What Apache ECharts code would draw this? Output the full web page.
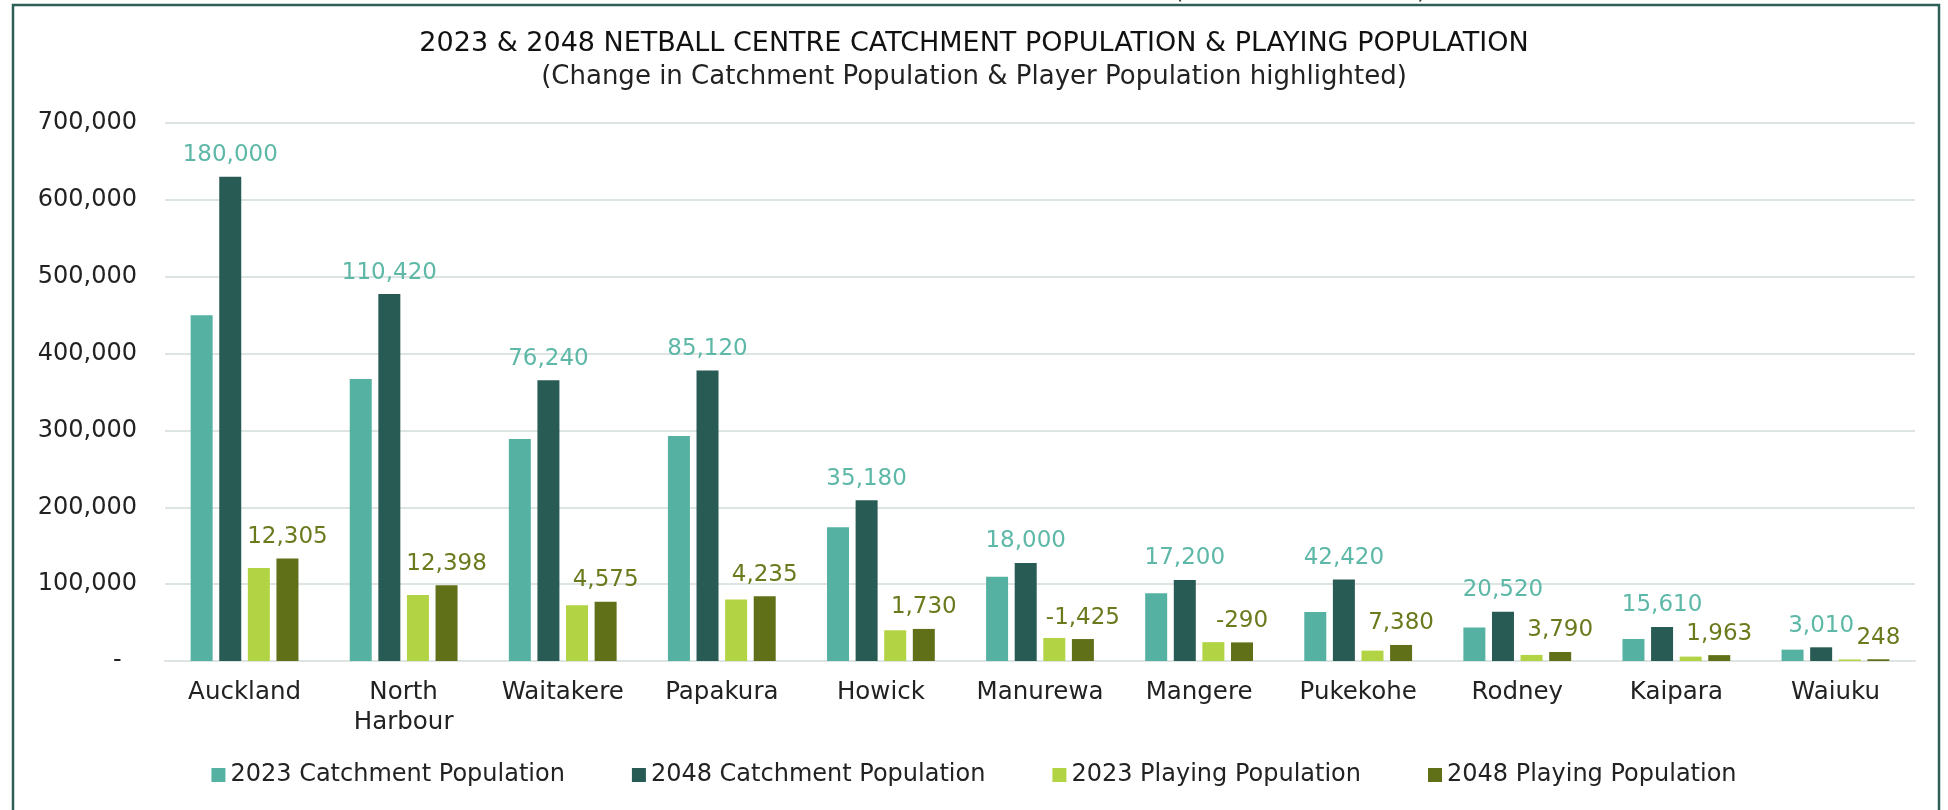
<!DOCTYPE html>
<html>
<head>
<meta charset="utf-8">
<script src="https://cdn.jsdelivr.net/npm/echarts@6/dist/echarts.min.js"></script>
<style>
  html, body { margin: 0; padding: 0; background: #fff; }
  #chart { width: 1948px; height: 810px; }
</style>
</head>
<body>
<div id="chart"></div>
<script>
// categories and values
var centres = ['Auckland', 'North\nHarbour', 'Waitakere', 'Papakura', 'Howick', 'Manurewa',
  'Mangere', 'Pukekohe', 'Rodney', 'Kaipara', 'Waiuku'];
var catchment2023 = [450000, 367000, 289000, 292700, 174000, 109500, 88200, 63600, 43600, 28600, 14800];
var catchment2048 = [630000, 477420, 365240, 377820, 209180, 127500, 105400, 106020, 64120, 44210, 17810];
var playing2023 = [121000, 86000, 72500, 80000, 40000, 30000, 24500, 13500, 7900, 5700, 2000];
var playing2048 = [133305, 98398, 77075, 84235, 41730, 28575, 24210, 20880, 11690, 7663, 2248];
// highlighted change labels
var catchmentChange = [180000, 110420, 76240, 85120, 35180, 18000, 17200, 42420, 20520, 15610, 3010];
var playingChange = [12305, 12398, 4575, 4235, 1730, -1425, -290, 7380, 3790, 1963, 248];
var seriesNames = ['2023 Catchment Population', '2048 Catchment Population',
  '2023 Playing Population', '2048 Playing Population'];

var font = 'DejaVu Sans';
var c1 = '#55b2a3', c2 = '#285b53', c3 = '#b2d343', c4 = '#5f7019';
var grid = '#dde5e2';

function fmt(v) { return v.toLocaleString('en-US'); }

var chart = echarts.init(document.getElementById('chart'), null, { renderer: 'canvas' });
chart.setOption({
  animation: false,
  textStyle: { fontFamily: font },
  title: {
    text: '2023 & 2048 NETBALL CENTRE CATCHMENT POPULATION & PLAYING POPULATION',
    subtext: '(Change in Catchment Population & Player Population highlighted)',
    left: 'center',
    top: 25,
    itemGap: 7,
    textStyle: { fontFamily: font, fontSize: 27, fontWeight: 'normal', color: '#111' },
    subtextStyle: { fontFamily: font, fontSize: 26, color: '#222' }
  },
  legend: {
    data: seriesNames,
    top: 758,
    left: 'center',
    icon: 'rect',
    itemWidth: 14,
    itemHeight: 14,
    itemGap: 67,
    textStyle: { fontFamily: font, fontSize: 24, color: '#222' }
  },
  grid: { left: 165, right: 33, top: 123, bottom: 149 },
  xAxis: {
    type: 'category',
    data: centres,
    axisLine: { lineStyle: { color: grid, width: 2 } },
    axisTick: { show: false },
    axisLabel: { fontFamily: font, fontSize: 24.5, color: '#222', margin: 17, lineHeight: 30, interval: 0 }
  },
  yAxis: {
    type: 'value',
    min: 0,
    max: 700000,
    interval: 100000,
    axisLine: { show: false },
    axisTick: { show: false },
    axisLabel: {
      fontFamily: font, fontSize: 24, color: '#222', margin: 28,
      formatter: function(v) { return v === 0 ? '-  ' : fmt(v); }
    },
    splitLine: { lineStyle: { color: grid, width: 2 } }
  },
  series: [
    { name: seriesNames[0], type: 'bar', data: catchment2023, barWidth: 22, barGap: '30%',
      itemStyle: { color: c1 } },
    { name: seriesNames[1], type: 'bar', data: catchment2048, barWidth: 22, barGap: '30%',
      itemStyle: { color: c2 },
      label: { show: true, position: 'top', distance: 10, fontFamily: font, fontSize: 23, color: '#5db8a7',
        formatter: function(p) { return fmt(catchmentChange[p.dataIndex]); } } },
    { name: seriesNames[2], type: 'bar', data: playing2023, barWidth: 22, barGap: '30%',
      itemStyle: { color: c3 } },
    { name: seriesNames[3], type: 'bar', data: playing2048, barWidth: 22, barGap: '30%',
      itemStyle: { color: c4 },
      label: { show: true, position: 'top', distance: 10, fontFamily: font, fontSize: 23, color: '#6a7b1e',
        formatter: function(p) { return fmt(playingChange[p.dataIndex]); } } }
  ],
  graphic: [
    { type: 'rect', silent: true, shape: { x: 13, y: 5, width: 1926, height: 900 },
      style: { fill: 'none', stroke: '#2e5f56', lineWidth: 2.5 } },
    { type: 'text', silent: true, x: 1174, y: -20, style: { text: '(', font: '24px DejaVu Sans', fill: '#333' } },
    { type: 'text', silent: true, x: 1417, y: -20, style: { text: ')', font: '24px DejaVu Sans', fill: '#333' } }
  ]
});
</script>
</body>
</html>
